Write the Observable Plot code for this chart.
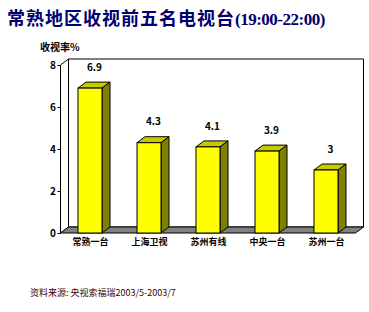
<!DOCTYPE html>
<html><head><meta charset="utf-8">
<script src="https://cdn.jsdelivr.net/npm/d3@7"></script>
<script src="https://cdn.jsdelivr.net/npm/@observablehq/plot@0.6"></script>
<style>
body{margin:0;background:#fff;}
#wrap{position:relative;width:369px;height:312px;overflow:hidden;background:#fff;}
#title{position:absolute;left:7px;top:7px;color:#000070;font-weight:bold;font-size:18px;font-family:"Noto Sans CJK SC";white-space:nowrap;line-height:20px;letter-spacing:1px;}
#title .en{font-family:"Liberation Serif";font-size:17px;letter-spacing:-0.5px;}
#ylab{position:absolute;left:40px;top:41px;font:bold 10px "Noto Sans CJK SC";line-height:12px;white-space:nowrap;}
#chart{position:absolute;left:0;top:38px;}
#cap{position:absolute;left:30px;top:287px;font:9px "Noto Sans CJK SC";color:#400000;white-space:nowrap;line-height:12px;}
</style>
</head><body>
<div id="wrap">
  <div id="title">常熟地区收视前五名电视台<span class="en">(19:00-22:00)</span></div>
  <div id="ylab">收视率%</div>
  <div id="chart"></div>
  <div id="cap">资料来源: 央视索福瑞2003/5-2003/7</div>
</div>
<script>
const names = ["常熟一台","上海卫视","苏州有线","中央一台","苏州一台"];
const values = [6.9, 4.3, 4.1, 3.9, 3];
const yTicks = [0, 2, 4, 6, 8];

const bars = names.map((name, i) => ({name, value: values[i]}));
const DX = 8, DY = -6;

function poly(g, pts, fill) {
  g.append("polygon")
    .attr("points", pts.map(p => p.join(",")).join(" "))
    .attr("fill", fill).attr("stroke", "#000").attr("stroke-width", 1)
    .attr("stroke-linejoin", "miter");
}

function box(index, scales) {
  const g = d3.create("svg:g");
  const [X0, X1] = scales.x.range();
  const Y0 = scales.y(0), Yt = scales.y(yTicks[yTicks.length - 1]);
  poly(g, [[X0+DX, Yt+DY],[X1+DX, Yt+DY],[X1+DX, Y0+DY],[X0+DX, Y0+DY]], "#fff");
  poly(g, [[X0, Yt],[X0+DX, Yt+DY],[X0+DX, Y0+DY],[X0, Y0]], "#fff");
  poly(g, [[X0, Y0],[X0+DX, Y0+DY],[X1+DX, Y0+DY],[X1, Y0]], "#808080");
  return g.node();
}

function sides(index, scales) {
  const g = d3.create("svg:g");
  const bw = scales.x.bandwidth();
  const yb = scales.y(0);
  for (const d of bars) {
    const xl = scales.x(d.name), xr = xl + bw, yt = scales.y(d.value);
    poly(g, [[xl, yt],[xl+DX, yt+DY],[xr+DX, yt+DY],[xr, yt]], "#c8c800");
    poly(g, [[xr, yt],[xr+DX, yt+DY],[xr+DX, yb+DY],[xr, yb]], "#808000");
  }
  return g.node();
}

const chart = Plot.plot({
  width: 369,
  height: 220,
  marginLeft: 60.5,
  marginRight: 13.5,
  marginTop: 27,
  marginBottom: 25,
  style: {fontFamily: "Noto Sans CJK SC", background: "transparent", color: "#000"},
  x: {domain: names, paddingInner: 0.593, paddingOuter: 0.2965, label: null},
  y: {domain: [0, 8], ticks: yTicks, label: null},
  marks: [
    box,
    sides,
    Plot.barY(bars, {x: "name", y: "value", fill: "#ffff00", stroke: "#000", strokeWidth: 1, inset: 0}),
    Plot.text(bars, {x: "name", y: "value", text: d => String(d.value), dy: -21, dx: 4,
      fontWeight: "bold", fontSize: 10, fill: "#000"}),
    Plot.axisY({ticks: yTicks, tickSize: 3, tickPadding: 2, fontSize: 10, fontWeight: "bold", label: null}),
    Plot.axisX({tickSize: 0, tickPadding: 5, fontSize: 9, fontWeight: "bold", label: null})
  ]
});
document.getElementById("chart").appendChild(chart);
</script>
</body></html>
